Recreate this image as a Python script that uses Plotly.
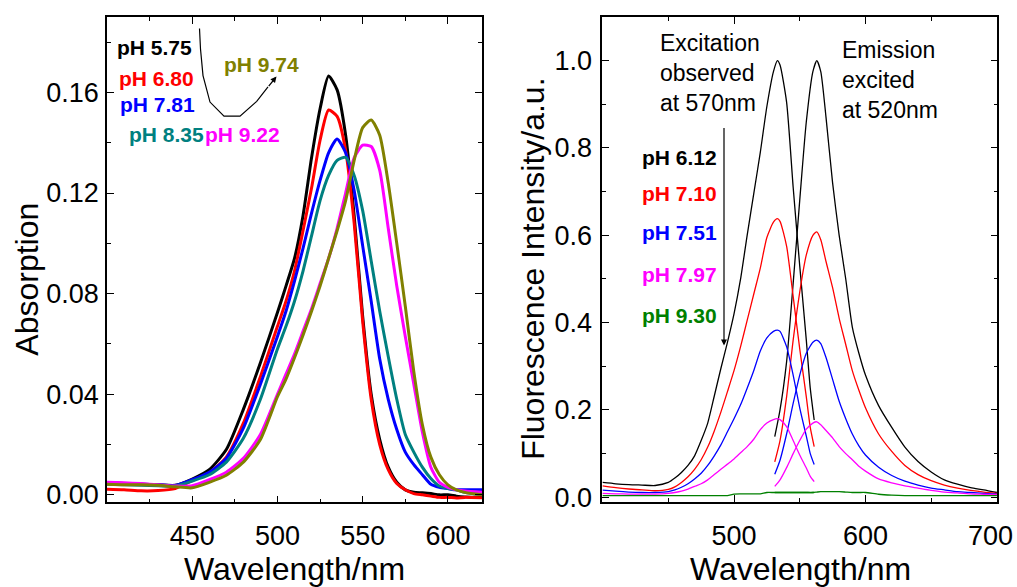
import plotly.graph_objects as go

W, H = 1017, 587
FONT = "Liberation Sans, Arial, sans-serif"

# ---------------- Left panel: absorption spectra ----------------
wl_abs = [400, 410, 420, 430, 440, 450, 460, 470, 480, 490, 500, 505, 510, 515, 520, 525,
          530, 535, 540, 545, 550, 555, 560, 565, 570, 575, 580, 585, 590, 595, 600, 605, 610, 620]

abs_575 = [0.0048, 0.0045, 0.0042, 0.0040, 0.0038, 0.0063, 0.0100, 0.0180, 0.0340, 0.0525, 0.0725, 0.0830,
           0.0940, 0.1110, 0.1340, 0.1535, 0.1665, 0.1610, 0.1430, 0.1110, 0.0710, 0.0400, 0.0220, 0.0110,
           0.0050, 0.0020, 0.0010, 0.0008, 0.0005, 0.0000, 0.0000, -0.0005, -0.0008, -0.0010]
abs_680 = [0.0022, 0.0020, 0.0016, 0.0017, 0.0025, 0.0057, 0.0088, 0.0150, 0.0285, 0.0470, 0.0670, 0.0770,
           0.0890, 0.1050, 0.1220, 0.1410, 0.1530, 0.1505, 0.1370, 0.1080, 0.0690, 0.0380, 0.0200, 0.0100,
           0.0045, 0.0020, 0.0005, 0.0000, -0.0005, -0.0010, -0.0010, -0.0012, -0.0010, -0.0012]
abs_781 = [0.0048, 0.0045, 0.0042, 0.0040, 0.0037, 0.0060, 0.0090, 0.0145, 0.0265, 0.0440, 0.0630, 0.0730,
           0.0850, 0.0980, 0.1120, 0.1250, 0.1360, 0.1415, 0.1360, 0.1210, 0.0990, 0.0770, 0.0540, 0.0380,
           0.0260, 0.0170, 0.0120, 0.0080, 0.0042, 0.0030, 0.0025, 0.0020, 0.0020, 0.0020]
abs_835 = [0.0042, 0.0040, 0.0038, 0.0036, 0.0035, 0.0055, 0.0080, 0.0130, 0.0225, 0.0380, 0.0580, 0.0670,
           0.0770, 0.0890, 0.1030, 0.1170, 0.1270, 0.1330, 0.1342, 0.1270, 0.1130, 0.0930, 0.0730, 0.0550,
           0.0380, 0.0240, 0.0170, 0.0110, 0.0065, 0.0035, 0.0025, 0.0020, 0.0010, 0.0000]
abs_922 = [0.0050, 0.0048, 0.0045, 0.0040, 0.0035, 0.0036, 0.0060, 0.0090, 0.0145, 0.0240, 0.0400, 0.0480,
           0.0560, 0.0650, 0.0740, 0.0840, 0.0940, 0.1060, 0.1200, 0.1340, 0.1390, 0.1385, 0.1290, 0.1060,
           0.0830, 0.0630, 0.0440, 0.0250, 0.0110, 0.0050, 0.0030, 0.0020, 0.0015, 0.0010]
abs_974 = [0.0042, 0.0040, 0.0040, 0.0038, 0.0032, 0.0028, 0.0050, 0.0078, 0.0130, 0.0220, 0.0390, 0.0460,
           0.0545, 0.0635, 0.0730, 0.0830, 0.0940, 0.1050, 0.1170, 0.1330, 0.1460, 0.1490, 0.1430, 0.1240,
           0.1000, 0.0750, 0.0490, 0.0280, 0.0150, 0.0080, 0.0040, 0.0020, 0.0010, 0.0000]

abs_series = [("pH 5.75", abs_575, "#000000"), ("pH 6.80", abs_680, "#FF0000"),
              ("pH 7.81", abs_781, "#0000FF"), ("pH 8.35", abs_835, "#008080"),
              ("pH 9.22", abs_922, "#FF00FF"), ("pH 9.74", abs_974, "#808000")]

# ---------------- Right panel: excitation / emission ----------------
wl_ex = [400, 410, 420, 430, 440, 450, 455, 460, 465, 470, 475, 480, 485, 490, 495, 500, 505, 510,
         515, 520, 525, 530, 533, 535, 540, 545, 550, 555, 558, 561]
ex_612 = [0.034, 0.031, 0.029, 0.028, 0.027, 0.034, 0.044, 0.057, 0.073, 0.095, 0.130, 0.170, 0.232,
          0.295, 0.355, 0.420, 0.500, 0.600, 0.695, 0.790, 0.895, 0.975, 1.000, 0.990, 0.905, 0.710,
          0.530, 0.360, 0.250, 0.177]
ex_710 = [0.026, 0.022, 0.019, 0.017, 0.015, 0.018, 0.024, 0.034, 0.047, 0.064, 0.086, 0.115, 0.152,
          0.195, 0.242, 0.290, 0.345, 0.405, 0.465, 0.525, 0.595, 0.630, 0.638, 0.632, 0.575, 0.460,
          0.340, 0.230, 0.160, 0.116]
ex_751 = [0.0165, 0.014, 0.012, 0.011, 0.011, 0.013, 0.017, 0.023, 0.031, 0.042, 0.055, 0.073, 0.095,
          0.120, 0.150, 0.180, 0.212, 0.250, 0.290, 0.335, 0.365, 0.380, 0.383, 0.380, 0.345, 0.280,
          0.205, 0.140, 0.100, 0.075]
ex_797 = [0.009, 0.008, 0.0075, 0.0075, 0.0075, 0.009, 0.011, 0.014, 0.019, 0.025, 0.031, 0.040, 0.052,
          0.064, 0.076, 0.088, 0.102, 0.116, 0.133, 0.155, 0.170, 0.178, 0.180, 0.178, 0.162, 0.130,
          0.097, 0.067, 0.048, 0.036]
ex_930 = [0.004, 0.004, 0.004, 0.004, 0.004, 0.004, 0.004, 0.004, 0.004, 0.004, 0.004, 0.004, 0.004,
          0.004, 0.004, 0.0075, 0.008, 0.008, 0.008, 0.008, 0.011, 0.011, 0.011, 0.011, 0.011, 0.011,
          0.011, 0.011, 0.011, 0.011]

wl_em = [531, 535, 540, 545, 550, 555, 560, 563, 566, 570, 575, 580, 585, 590, 595, 600, 610, 620,
         630, 640, 650, 660, 670, 680, 690, 700]
em_612 = [0.139, 0.200, 0.310, 0.490, 0.680, 0.860, 0.975, 1.000, 0.975, 0.870, 0.720, 0.600, 0.500,
          0.390, 0.330, 0.280, 0.210, 0.160, 0.115, 0.082, 0.058, 0.040, 0.030, 0.022, 0.017, 0.011]
em_710 = [0.081, 0.130, 0.230, 0.360, 0.470, 0.555, 0.600, 0.608, 0.590, 0.540, 0.480, 0.410, 0.350,
          0.290, 0.245, 0.205, 0.145, 0.105, 0.073, 0.052, 0.038, 0.028, 0.021, 0.016, 0.012, 0.009]
em_751 = [0.053, 0.085, 0.145, 0.215, 0.280, 0.330, 0.355, 0.360, 0.352, 0.320, 0.270, 0.220, 0.180,
          0.145, 0.118, 0.097, 0.069, 0.050, 0.037, 0.028, 0.021, 0.017, 0.013, 0.011, 0.009, 0.0075]
em_797 = [0.025, 0.040, 0.068, 0.100, 0.130, 0.156, 0.170, 0.173, 0.166, 0.153, 0.136, 0.116, 0.100,
          0.086, 0.071, 0.060, 0.042, 0.033, 0.026, 0.021, 0.016, 0.012, 0.010, 0.008, 0.007, 0.006]
em_930 = [0.011, 0.011, 0.011, 0.011, 0.011, 0.011, 0.011, 0.012, 0.013, 0.013, 0.013, 0.013, 0.012,
          0.011, 0.011, 0.011, 0.007, 0.005, 0.004, 0.004, 0.004, 0.004, 0.004, 0.004, 0.004, 0.004]

fl_series = [("pH 6.12", ex_612, em_612, "#000000"), ("pH 7.10", ex_710, em_710, "#FF0000"),
             ("pH 7.51", ex_751, em_751, "#0000FF"), ("pH 7.97", ex_797, em_797, "#FF00FF"),
             ("pH 9.30", ex_930, em_930, "#008000")]

fig = go.Figure()
for name, ys, col in abs_series:
    fig.add_trace(go.Scatter(x=wl_abs, y=ys, mode="lines", name=name,
                             line=dict(color=col, width=3, shape="spline", smoothing=0.6),
                             xaxis="x", yaxis="y", showlegend=False))
for name, ex, em, col in fl_series:
    fig.add_trace(go.Scatter(x=wl_ex, y=ex, mode="lines", name=name + " ex",
                             line=dict(color=col, width=1.3, shape="spline", smoothing=0.6),
                             xaxis="x2", yaxis="y2", showlegend=False))
    fig.add_trace(go.Scatter(x=wl_em, y=em, mode="lines", name=name + " em",
                             line=dict(color=col, width=1.3, shape="spline", smoothing=0.6),
                             xaxis="x2", yaxis="y2", showlegend=False))


def px(x):
    return x / W


def py(y):
    return 1 - y / H


TICK_SIZE = 27
axis_common = dict(showline=True, linecolor="black", linewidth=1.6, mirror="ticks",
                   ticks="inside", ticklen=7, tickwidth=1.4, tickcolor="black",
                   showgrid=False, zeroline=False,
                   tickfont=dict(family=FONT, size=TICK_SIZE, color="black"))
minor_common = dict(ticks="inside", ticklen=4, tickwidth=1.4, tickcolor="black")

fig.update_layout(
    width=W, height=H, margin=dict(l=0, r=0, t=0, b=0),
    paper_bgcolor="white", plot_bgcolor="white",
    xaxis=dict(domain=[px(107), px(482)], range=[400, 620], anchor="y",
               tickvals=[450, 500, 550, 600], ticklabelstandoff=8,
               minor=dict(tickvals=[425, 475, 525, 575], **minor_common),
               **axis_common),
    yaxis=dict(domain=[py(512), py(17.3)], range=[-0.003, 0.190], anchor="x",
               tickvals=[0.0, 0.04, 0.08, 0.12, 0.16], tickformat=".2f", ticklabelstandoff=1,
               minor=dict(tickvals=[0.02, 0.06, 0.10, 0.14, 0.18], **minor_common),
               **axis_common),
    xaxis2=dict(domain=[px(602.3), px(997.3)], range=[399.8, 700.3], anchor="y2",
                tickvals=[500, 600, 700], ticktext=["500", "600", ""], ticklabelstandoff=9,
                minor=dict(tickvals=[450, 550, 650], **minor_common),
                **axis_common),
    yaxis2=dict(domain=[py(511.7), py(17.3)], range=[-0.011, 1.10], anchor="x2",
                tickvals=[0.0, 0.2, 0.4, 0.6, 0.8, 1.0], tickformat=".1f", ticklabelstandoff=3,
                minor=dict(tickvals=[0.1, 0.3, 0.5, 0.7, 0.9], **minor_common),
                **axis_common),
)

ann = []
# the last tick label of the right panel sits at the page edge; drawn as text so it stays inside
ann.append(dict(text="700", x=px(1015), y=py(546), xref="paper", yref="paper", showarrow=False,
                xanchor="right", yanchor="middle",
                font=dict(family=FONT, size=TICK_SIZE, color="black")))

title_font = dict(family=FONT, size=32, color="black")
ann.append(dict(text="Absorption", x=px(27), y=py(285), xref="paper", yref="paper",
                textangle=-90, showarrow=False, font=title_font, xanchor="center", yanchor="middle"))
ann.append(dict(text="Wavelength/nm", x=px(294), y=py(580), xref="paper", yref="paper",
                showarrow=False, font=title_font, xanchor="center", yanchor="middle"))
ann.append(dict(text="Fluorescence Intensity/a.u.", x=px(533), y=py(274), xref="paper", yref="paper",
                textangle=-90, showarrow=False, font=title_font, xanchor="center", yanchor="middle"))
ann.append(dict(text="Wavelength/nm", x=px(800), y=py(580), xref="paper", yref="paper",
                showarrow=False, font=title_font, xanchor="center", yanchor="middle"))

# left legend labels
left_labels = [("pH 5.75", "#000000", 115, 48), ("pH 6.80", "#FF0000", 117, 80),
               ("pH 7.81", "#0000FF", 118, 107), ("pH 8.35", "#008080", 127, 137),
               ("pH 9.22", "#FF00FF", 203, 137), ("pH 9.74", "#808000", 222, 66)]
for t, c, x0, y0 in left_labels:
    ann.append(dict(text="<b>%s</b>" % t, x=px(x0), y=py(y0), xref="paper", yref="paper",
                    showarrow=False, xanchor="left", yanchor="middle",
                    font=dict(family=FONT, size=21, color=c)))

# right legend labels
right_labels = [("pH 6.12", "#000000", 160), ("pH 7.10", "#FF0000", 197),
                ("pH 7.51", "#0000FF", 237), ("pH 7.97", "#FF00FF", 280),
                ("pH 9.30", "#008000", 322)]
for t, c, y0 in right_labels:
    ann.append(dict(text="<b>%s</b>" % t, x=px(640), y=py(y0), xref="paper", yref="paper",
                    showarrow=False, xanchor="left", yanchor="middle",
                    font=dict(family=FONT, size=21, color=c)))

note_font = dict(family=FONT, size=23, color="black")
ann.append(dict(text="Excitation<br>observed<br>at 570nm", x=px(658), y=py(74.5), xref="paper",
                yref="paper", showarrow=False, xanchor="left", yanchor="middle", align="left",
                font=note_font))
ann.append(dict(text="Emission<br>excited<br>at 520nm", x=px(840), y=py(81.5), xref="paper",
                yref="paper", showarrow=False, xanchor="left", yanchor="middle", align="left",
                font=note_font))

# arrows
ann.append(dict(text="", x=px(724), y=py(352), xref="paper", yref="paper", showarrow=True,
                ax=0, ay=-219, arrowhead=2, arrowsize=1, arrowwidth=1.2, arrowcolor="black"))
ann.append(dict(text="", x=px(276.5), y=py(78), xref="paper", yref="paper", showarrow=True,
                ax=-9, ay=11, arrowhead=2, arrowsize=1, arrowwidth=1.2, arrowcolor="black"))

pts = [(199.5, 29), (200.5, 50), (203, 77), (210, 104), (224, 118.3), (240, 118.3),
       (256.7, 103.3), (268, 88.5)]
path = "M " + " L ".join("%.5f,%.5f" % (px(a), py(b)) for a, b in pts)
fig.add_shape(type="path", path=path, xref="paper", yref="paper",
              line=dict(color="black", width=1.2))

fig.update_layout(annotations=ann)
fig.write_html("out.html")
